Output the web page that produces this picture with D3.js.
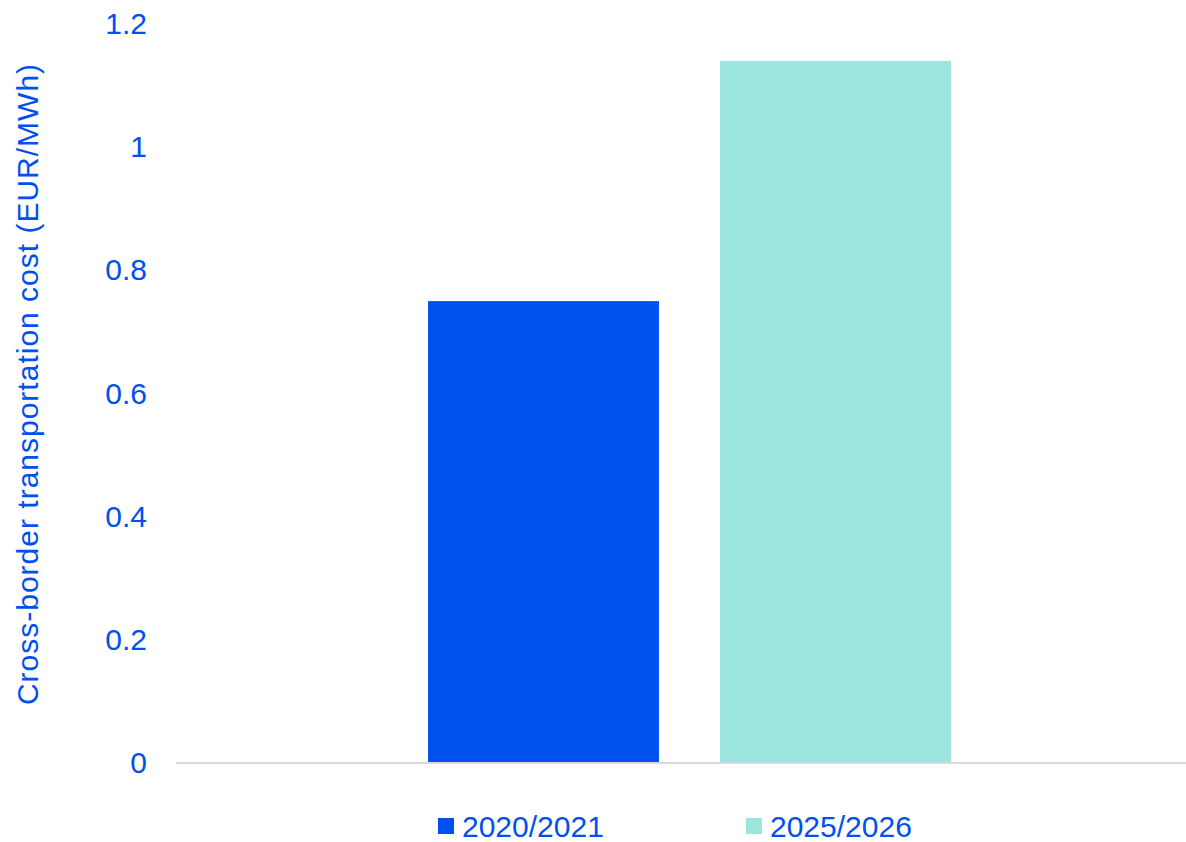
<!DOCTYPE html>
<html>
<head>
<meta charset="utf-8">
<script src="https://cdn.jsdelivr.net/npm/d3@7"></script>
<style>
  body { margin: 0; background: #fff; }
  svg text { font-family: "Liberation Sans", Arial, sans-serif; fill: #0050EF; }
</style>
</head>
<body>
<div id="chart"></div>
<script>
const series = ["2020/2021", "2025/2026"];
const values = [0.75, 1.14];
const colors = ["#0050EF", "#9DE5DF"];
const yTicks = [0, 0.2, 0.4, 0.6, 0.8, 1, 1.2];
const yTitle = "Cross-border transportation cost (EUR/MWh)";

const width = 1186;
const height = 842;
const margin = { top: 24, right: -17, bottom: 79, left: 176 };

const svg = d3.select("#chart")
  .append("svg")
  .attr("width", width)
  .attr("height", height);

const y = d3.scaleLinear()
  .domain([0, 1.2])
  .range([height - margin.bottom, margin.top]);

// one category holding both series
const x0 = d3.scaleBand()
  .domain([""])
  .range([margin.left, width - margin.right])
  .paddingInner(0)
  .paddingOuter(0.482);

const x1 = d3.scaleBand()
  .domain(series)
  .range([0, x0.bandwidth()])
  .paddingInner(0.209)
  .paddingOuter(0);

// bars
svg.append("g")
  .selectAll("rect")
  .data(series)
  .join("rect")
  .attr("x", (d) => x0("") + x1(d))
  .attr("y", (d, i) => y(values[i]))
  .attr("width", x1.bandwidth())
  .attr("height", (d, i) => y(0) - y(values[i]))
  .attr("fill", (d, i) => colors[i]);

// baseline
svg.append("line")
  .attr("x1", margin.left)
  .attr("x2", width)
  .attr("y1", y(0))
  .attr("y2", y(0))
  .attr("stroke", "#D9D9D9")
  .attr("stroke-width", 2);

// y axis (labels only)
const yAxis = svg.append("g")
  .attr("transform", `translate(${margin.left},0)`)
  .call(d3.axisLeft(y).tickValues(yTicks).tickSize(0).tickPadding(29).tickFormat(d3.format("~g")));
yAxis.select(".domain").remove();
yAxis.selectAll("text")
  .style("font-size", "30px")
  .attr("fill", "#0050EF");

// y title
svg.append("text")
  .attr("transform", "translate(38,384) rotate(-90)")
  .attr("text-anchor", "middle")
  .style("font-size", "30px")
  .style("letter-spacing", "1px")
  .text(yTitle);

// legend
const legendX = [438, 746];
const legend = svg.append("g")
  .selectAll("g")
  .data(series)
  .join("g")
  .attr("transform", (d, i) => `translate(${legendX[i]},818)`);

legend.append("rect")
  .attr("width", 16)
  .attr("height", 16)
  .attr("fill", (d, i) => colors[i]);

legend.append("text")
  .attr("x", 24)
  .attr("y", 19)
  .style("font-size", "30px")
  .text((d) => d);
</script>
</body>
</html>
